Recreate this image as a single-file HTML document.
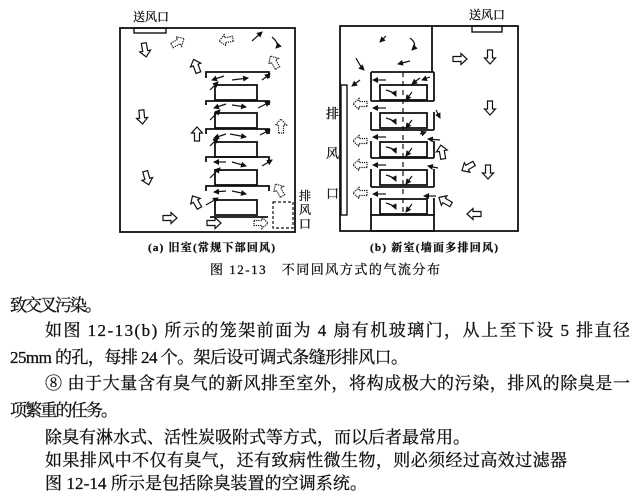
<!DOCTYPE html>
<html><head><meta charset="utf-8"><style>
body{margin:0;background:#fff}
svg{display:block}
text{font-family:"Liberation Serif","Noto Serif CJK SC","Noto Sans CJK SC",serif;fill:#111}
.b text{stroke:#111;stroke-width:0.3}
</style></head><body>
<svg width="640" height="496" viewBox="0 0 640 496" xmlns="http://www.w3.org/2000/svg">
<defs>
<marker id="h" viewBox="0 0 6 6" refX="5" refY="3" markerWidth="5" markerHeight="5" orient="auto"><path d="M0,0L6,3L0,6z" fill="#111"/></marker>
<path id="ba" d="M-7,-2.5H1V-5.5L7,0L1,5.5V2.5H-7Z" fill="#fff" stroke="#111" stroke-width="1.2"/>
<path id="bh" d="M-7,-2.5H1V-5.5L7,0L1,5.5V2.5H-7Z" fill="#fff" stroke="#111" stroke-width="1.2" stroke-dasharray="1.2 1"/>
</defs>
<g fill="none" stroke="#111" stroke-width="1.8">
<rect x="120" y="28" width="175" height="204"/>
<rect x="134" y="28" width="32" height="5" stroke-width="1.4"/>
<rect x="273" y="202" width="20" height="26" stroke-width="1.2" stroke-dasharray="3 2"/>
<path d="M206,78V72H269V78M206,105V101H269V105M206,134V129H269V134M206,162V157H269V162M206,191V186H269V191"/>
<rect x="215" y="85" width="42" height="15"/>
<rect x="215" y="113" width="42" height="15"/>
<rect x="215" y="142" width="42" height="15"/>
<rect x="215" y="170" width="42" height="15"/>
<rect x="215" y="200" width="42" height="15"/>
<path d="M210,217H268"/>
<rect x="340" y="26" width="178" height="205"/>
<path d="M432,26V72"/>
<rect x="472" y="26" width="30" height="6" stroke-width="1.4"/>
<rect x="341" y="85" width="6" height="130" stroke-width="1.4"/>
<path d="M371,72H434M371,72V101M434,72V101M371,112V130M434,112V130M371,141V158M434,141V158M371,169V187M434,169V187M371,198V215M434,198V215"/>
<path d="M371,101H434M371,130H434M371,158H434M371,187H434"/>
<rect x="380" y="85" width="47" height="15"/>
<rect x="380" y="113" width="47" height="15"/>
<rect x="380" y="142" width="47" height="15"/>
<rect x="380" y="170" width="47" height="15"/>
<rect x="380" y="199" width="47" height="15"/>
<rect x="371" y="215" width="63" height="16"/>
<path d="M403,72V215" stroke-width="1.2" stroke-dasharray="5 4"/>
</g>
<use href="#ba" transform="translate(145,50) rotate(80)"/>
<use href="#ba" transform="translate(142,117) rotate(85)"/>
<use href="#ba" transform="translate(147,178) rotate(75)"/>
<use href="#ba" transform="translate(170,218)"/>
<use href="#ba" transform="translate(214,223)"/>
<use href="#ba" transform="translate(196,66) rotate(-110)"/>
<use href="#ba" transform="translate(197,134) rotate(-90)"/>
<use href="#ba" transform="translate(196,202) rotate(-120)"/>
<use href="#bh" transform="translate(178,42) rotate(-30)"/>
<use href="#bh" transform="translate(226,40) rotate(170)"/>
<use href="#bh" transform="translate(274,62) rotate(-120)"/>
<use href="#bh" transform="translate(281,126) rotate(-90)"/>
<use href="#bh" transform="translate(279,190) rotate(-120)"/>
<use href="#bh" transform="translate(261,223)"/>
<use href="#ba" transform="translate(460,59)"/>
<use href="#ba" transform="translate(490,57) rotate(90)"/>
<use href="#ba" transform="translate(490,108) rotate(90)"/>
<use href="#ba" transform="translate(488,172) rotate(90)"/>
<use href="#ba" transform="translate(468,167) rotate(150)"/>
<use href="#ba" transform="translate(442,152) rotate(-100)"/>
<use href="#ba" transform="translate(445,201) rotate(-150)"/>
<use href="#ba" transform="translate(474,214) rotate(180)"/>
<use href="#bh" transform="translate(360,104) rotate(180)"/>
<use href="#bh" transform="translate(360,141) rotate(180)"/>
<use href="#bh" transform="translate(360,165) rotate(180)"/>
<use href="#bh" transform="translate(360,193) rotate(180)"/>
<g stroke="#111" stroke-width="1.2" fill="none" marker-end="url(#h)">
<path d="M252,41L262,32"/><path d="M272,37Q280,44 276,48"/>
<path d="M232,80L248,78"/><path d="M224,76L212,80"/><path d="M262,80L270,74"/><path d="M210,90L218,82"/>
<path d="M232,105L246,107"/><path d="M226,104L214,108"/><path d="M258,108L270,102"/><path d="M210,120L220,110"/>
<path d="M230,134L246,137"/><path d="M226,134L214,138"/><path d="M260,135L270,130"/><path d="M210,146L218,138"/>
<path d="M232,162L246,166"/><path d="M226,162L214,162"/><path d="M262,166L272,160"/><path d="M210,178L220,168"/>
<path d="M232,191L246,194"/><path d="M226,191L214,192"/><path d="M206,205L218,198"/>
<path d="M386,36L380,42"/><path d="M410,38Q418,44 412,50"/><path d="M410,61L398,64"/><path d="M356,58Q360,66 364,70"/>
<path d="M360,80L352,86"/><path d="M386,80L373,80"/>
<path d="M420,78L412,84"/><path d="M430,77L422,80"/>
<path d="M386,90Q394,92 396,96"/><path d="M412,92L406,100"/><path d="M386,108L373,108"/><path d="M436,110L440,118"/>
<path d="M386,118Q394,120 396,124"/><path d="M412,120L406,128"/><path d="M386,137L373,137"/><path d="M420,134L426,132"/><path d="M440,140L428,139"/>
<path d="M386,147Q394,148 396,153"/><path d="M412,148L406,156"/><path d="M386,165L373,165"/><path d="M438,168L428,166"/>
<path d="M386,175Q394,177 396,181"/><path d="M412,176L406,184"/><path d="M386,194L373,194"/><path d="M436,196L424,196"/>
<path d="M386,203Q394,205 396,209"/><path d="M412,204L406,212"/>
</g>
<g class="b">
<g font-size="12">
<text x="133" y="21" font-family="Liberation Sans,Noto Sans CJK SC,sans-serif">送风口</text>
<text x="469" y="19" font-family="Liberation Sans,Noto Sans CJK SC,sans-serif">送风口</text>
<text x="299" y="200">排</text><text x="299" y="214">风</text><text x="299" y="228">口</text>
<text x="326" y="118" font-size="13">排</text><text x="326" y="158" font-size="13">风</text><text x="326" y="198" font-size="13">口</text>
</g>
<text x="148" y="251" font-size="11" font-weight="bold" textLength="127">(a) 旧室(常规下部回风)</text>
<text x="370" y="251" font-size="11" font-weight="bold" textLength="128">(b) 新室(墙面多排回风)</text>
<text x="210" y="274" font-size="13" textLength="230">图 12-13　不同回风方式的气流分布</text>
<g font-size="17">
<text x="10" y="311" textLength="92">致交叉污染。</text>
<text x="45" y="336" textLength="585">如图 12-13(b) 所示的笼架前面为 4 扇有机玻璃门，从上至下设 5 排直径</text>
<text x="10" y="363" textLength="398">25mm 的孔，每排 24 个。架后设可调式条缝形排风口。</text>
<text x="45" y="389" textLength="585">⑧ 由于大量含有臭气的新风排至室外，将构成极大的污染，排风的除臭是一</text>
<text x="10" y="416" textLength="108">项繁重的任务。</text>
<text x="45" y="443" textLength="425">除臭有淋水式、活性炭吸附式等方式，而以后者最常用。</text>
<text x="45" y="466" textLength="522">如果排风中不仅有臭气，还有致病性微生物，则必须经过高效过滤器</text>
<text x="45" y="489" textLength="322">图 12-14 所示是包括除臭装置的空调系统。</text>
</g>
</g>
</svg>
</body></html>
